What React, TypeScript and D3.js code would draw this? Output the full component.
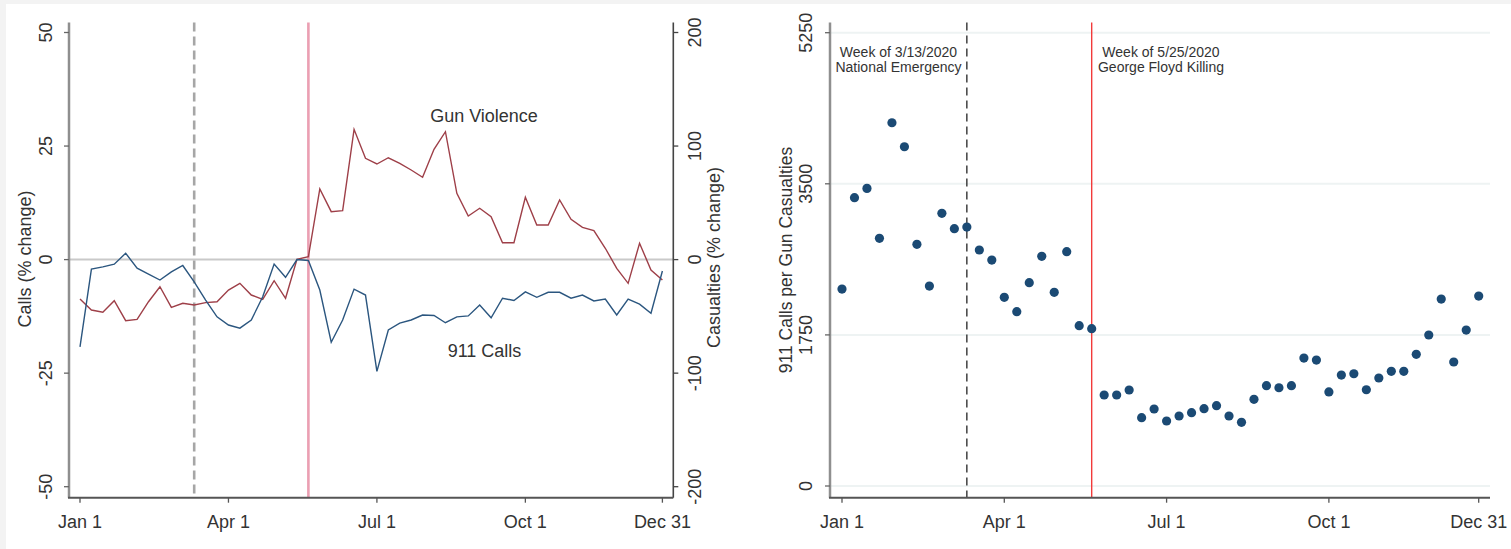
import React from "react";
import * as d3 from "d3";

// Weekly series, 2020 (week 1 .. week 52)
const callsPctChange = [
  -19.2, -2.1, -1.6, -1.0, 1.4, -1.9, -3.2, -4.5, -2.7, -1.3,
  -4.9, -8.9, -12.6, -14.4, -15.1, -13.3, -8.2, -1.0, -3.9, 0.0,
  -0.2, -6.7, -18.2, -13.3, -6.5, -7.8, -24.6, -15.5, -14.0, -13.3,
  -12.2, -12.3, -13.9, -12.6, -12.4, -10.0, -12.8, -8.5, -9.0, -7.1,
  -8.3, -7.2, -7.2, -8.5, -7.8, -9.1, -8.7, -12.2, -8.7, -9.8,
  -11.8, -2.5,
];

const casualtiesPctChange = [
  -34.7, -44.4, -46.4, -36.2, -53.8, -52.6, -37.1, -23.9, -42.0, -38.5,
  -40.0, -37.9, -37.1, -26.8, -20.9, -31.2, -35.0, -18.6, -34.1, 0.3,
  2.6, 62.2, 42.2, 43.1, 114.7, 89.2, 84.2, 89.7, 84.8, 78.9,
  72.5, 97.1, 112.6, 58.4, 38.4, 45.2, 37.8, 14.9, 14.9, 54.9,
  30.5, 30.5, 52.5, 35.5, 28.4, 25.5, 10.0, -7.7, -20.9, 14.4,
  -9.2, -18.0,
];

const callsPerCasualty = [
  2281, 3339, 3447, 2868, 4207, 3929, 2799, 2316, 3158, 2980,
  2999, 2733, 2617, 2185, 2019, 2355, 2660, 2243, 2714, 1857,
  1822, 1054, 1054, 1112, 791, 892, 753, 811, 849, 895,
  930, 811, 737, 1004, 1162, 1138, 1162, 1482, 1459, 1089,
  1285, 1300, 1115, 1251, 1328, 1328, 1525, 1749, 2165, 1436,
  1806, 2200,
];

// Month ticks expressed as week of year
const monthTickWeeks = [1, 14, 27, 40, 52];
const monthTickLabels = ["Jan 1", "Apr 1", "Jul 1", "Oct 1", "Dec 31"];

const callsTicks = [-50, -25, 0, 25, 50];
const casualtyTicks = [-200, -100, 0, 100, 200];
const ratioTicks = [0, 1750, 3500, 5250];

const emergencyWeek = 11;
const floydWeek = 21;

const FONT = "'Liberation Sans', Arial, Helvetica, sans-serif";
const TEXT = "#333";
const NAVY = "#2b567f";
const MAROON = "#9e3f48";

export default function App() {
  const W = 1511;
  const H = 549;

  // ---- left panel scales
  const xL = d3.scaleLinear().domain([1, 52]).range([80, 662.4]);
  const yL = d3.scaleLinear().domain([-50, 50]).range([486.7, 32.5]);
  const yLR = d3.scaleLinear().domain([-200, 200]).range([486.7, 32.5]);
  const leftAxisX = 69;
  const rightAxisX = 673.3;
  const bottomY = 497.7;
  const topY = 22.5;

  const callsLine = d3
    .line<number>()
    .x((_, i) => xL(i + 1))
    .y((d) => yL(d));
  const casualtyLine = d3
    .line<number>()
    .x((_, i) => xL(i + 1))
    .y((d) => yLR(d));

  // ---- right panel scales
  const xR = d3.scaleLinear().domain([1, 52]).range([842, 1478.7]);
  const yP = d3.scaleLinear().domain([0, 5250]).range([486, 32.7]);
  const pLeftX = 830;
  const pRightX = 1490;

  return (
    <svg
      width={W}
      height={H}
      style={{ position: "absolute", left: 0, top: 0, fontFamily: FONT }}
    >
      <rect x={0} y={0} width={W} height={H} fill="#f3f3f3" />
      <rect x={6} y={4} width={W - 6} height={H - 4} fill="#ffffff" />

      {/* ================= Left panel ================= */}
      {/* zero reference line */}
      <line
        x1={leftAxisX}
        x2={rightAxisX}
        y1={yL(0)}
        y2={yL(0)}
        stroke="#c9c9c9"
        strokeWidth={2}
      />
      {/* event markers */}
      <line
        x1={xL(emergencyWeek)}
        x2={xL(emergencyWeek)}
        y1={topY}
        y2={bottomY}
        stroke="#a6a6a6"
        strokeWidth={2.6}
        strokeDasharray="9 5"
      />
      <line
        x1={xL(floydWeek)}
        x2={xL(floydWeek)}
        y1={topY}
        y2={bottomY}
        stroke="#eb9fb2"
        strokeWidth={2.6}
      />

      <path d={casualtyLine(casualtiesPctChange) || ""} fill="none" stroke={MAROON} strokeWidth={1.4} />
      <path d={callsLine(callsPctChange) || ""} fill="none" stroke={NAVY} strokeWidth={1.4} />

      <text x={484} y={122} fontSize={18} fill={TEXT} textAnchor="middle">
        Gun Violence
      </text>
      <text x={484.5} y={357} fontSize={18} fill={TEXT} textAnchor="middle">
        911 Calls
      </text>

      {/* left axis */}
      <line x1={leftAxisX} x2={leftAxisX} y1={topY} y2={bottomY} stroke="#8f8f8f" strokeWidth={2.5} />
      {callsTicks.map((t) => (
        <g key={"lt" + t}>
          <line x1={leftAxisX - 5} x2={leftAxisX} y1={yL(t)} y2={yL(t)} stroke="#666" strokeWidth={1.3} />
          <text
            transform={`translate(46,${yL(t)}) rotate(-90)`}
            textAnchor="middle"
            dy="0.35em"
            fontSize={18}
            fill={TEXT}
          >
            {t}
          </text>
        </g>
      ))}
      <text
        transform={`translate(25,259) rotate(-90)`}
        textAnchor="middle"
        dy="0.35em"
        fontSize={18}
        fill={TEXT}
      >
        Calls (% change)
      </text>

      {/* right axis */}
      <line x1={rightAxisX} x2={rightAxisX} y1={topY} y2={bottomY} stroke="#444" strokeWidth={1.6} />
      {casualtyTicks.map((t) => (
        <g key={"rt" + t}>
          <line x1={rightAxisX} x2={rightAxisX + 5} y1={yLR(t)} y2={yLR(t)} stroke="#444" strokeWidth={1.3} />
          <text
            transform={`translate(695,${yLR(t)}) rotate(-90)`}
            textAnchor="middle"
            dy="0.35em"
            fontSize={18}
            fill={TEXT}
          >
            {t}
          </text>
        </g>
      ))}
      <text
        transform={`translate(714,257.5) rotate(-90)`}
        textAnchor="middle"
        dy="0.35em"
        fontSize={18}
        fill={TEXT}
      >
        Casualties (% change)
      </text>

      {/* bottom axis */}
      <line x1={leftAxisX - 1} x2={rightAxisX} y1={bottomY} y2={bottomY} stroke="#555" strokeWidth={2} />
      {monthTickWeeks.map((w, i) => (
        <g key={"lx" + w}>
          <line x1={xL(w)} x2={xL(w)} y1={bottomY} y2={bottomY + 5} stroke="#555" strokeWidth={1.3} />
          <text x={xL(w)} y={528} textAnchor="middle" fontSize={18} fill={TEXT}>
            {monthTickLabels[i]}
          </text>
        </g>
      ))}

      {/* ================= Right panel ================= */}
      {ratioTicks.map((t) => (
        <line
          key={"g" + t}
          x1={pLeftX}
          x2={pRightX}
          y1={yP(t)}
          y2={yP(t)}
          stroke="#eef3f3"
          strokeWidth={2}
        />
      ))}

      <line
        x1={xR(emergencyWeek)}
        x2={xR(emergencyWeek)}
        y1={topY}
        y2={bottomY}
        stroke="#333"
        strokeWidth={1.4}
        strokeDasharray="8 5"
      />
      <line
        x1={xR(floydWeek)}
        x2={xR(floydWeek)}
        y1={topY}
        y2={bottomY}
        stroke="#f23a3a"
        strokeWidth={1.4}
      />

      <text x={898.5} y={57} textAnchor="middle" fontSize={14} fill={TEXT}>
        Week of 3/13/2020
      </text>
      <text x={898.5} y={72} textAnchor="middle" fontSize={14} fill={TEXT}>
        National Emergency
      </text>
      <text x={1161} y={57} textAnchor="middle" fontSize={14} fill={TEXT}>
        Week of 5/25/2020
      </text>
      <text x={1161} y={72} textAnchor="middle" fontSize={14} fill={TEXT}>
        George Floyd Killing
      </text>

      {callsPerCasualty.map((v, i) => (
        <circle key={"p" + i} cx={xR(i + 1)} cy={yP(v)} r={4.6} fill="#1b4a74" />
      ))}

      {/* y axis */}
      <line x1={pLeftX} x2={pLeftX} y1={topY} y2={bottomY} stroke="#8f8f8f" strokeWidth={2.5} />
      {ratioTicks.map((t) => (
        <g key={"pt" + t}>
          <line x1={pLeftX - 5} x2={pLeftX} y1={yP(t)} y2={yP(t)} stroke="#666" strokeWidth={1.3} />
          <text
            transform={`translate(806,${yP(t)}) rotate(-90)`}
            textAnchor="middle"
            dy="0.35em"
            fontSize={18}
            fill={TEXT}
          >
            {t}
          </text>
        </g>
      ))}
      <text
        transform={`translate(786,260) rotate(-90)`}
        textAnchor="middle"
        dy="0.35em"
        fontSize={17.5}
        fill={TEXT}
      >
        911 Calls per Gun Casualties
      </text>

      {/* x axis */}
      <line x1={pLeftX - 1} x2={pRightX} y1={bottomY} y2={bottomY} stroke="#555" strokeWidth={2} />
      {monthTickWeeks.map((w, i) => (
        <g key={"px" + w}>
          <line x1={xR(w)} x2={xR(w)} y1={bottomY} y2={bottomY + 5} stroke="#555" strokeWidth={1.3} />
          <text x={xR(w)} y={528} textAnchor="middle" fontSize={18} fill={TEXT}>
            {monthTickLabels[i]}
          </text>
        </g>
      ))}
    </svg>
  );
}
